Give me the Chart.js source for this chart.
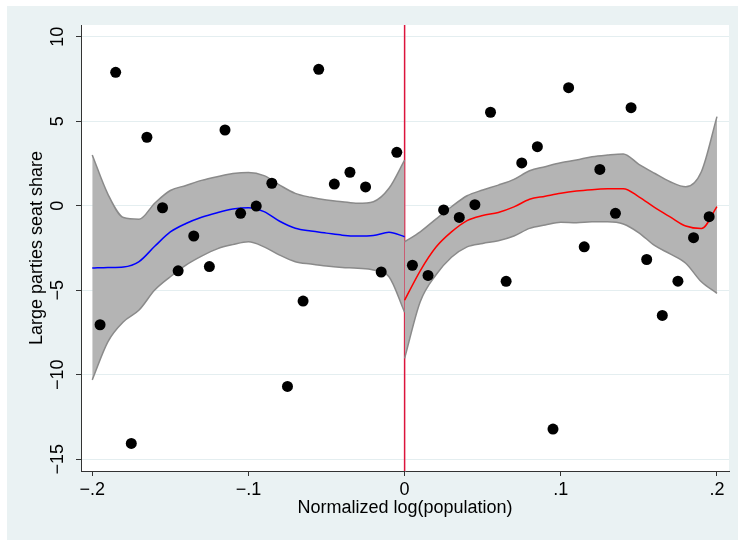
<!DOCTYPE html>
<html>
<head>
<meta charset="UTF-8">
<title>Large parties seat share</title>
<script src="https://cdn.jsdelivr.net/npm/chart.js"></script>
<style>
  html, body { margin: 0; padding: 0; background: #fff; }
  canvas { display: block; }
</style>
</head>
<body>
<canvas id="rdChart" width="738" height="542"></canvas>
<script>
// bin means, left and right of the cutoff
const binXLeft = [-0.195, -0.185, -0.175, -0.165, -0.155, -0.145, -0.135, -0.125, -0.115, -0.105,
                  -0.095, -0.085, -0.075, -0.065, -0.055, -0.045, -0.035, -0.025, -0.015, -0.005];
const binYLeft = [-7.04, 7.89, -14.06, 4.05, -0.12, -3.85, -1.79, -3.60, 4.48, -0.45,
                  -0.02, 1.33, -10.69, -5.64, 8.07, 1.28, 1.98, 1.11, -3.92, 3.16];
const binXRight = [0.005, 0.015, 0.025, 0.035, 0.045, 0.055, 0.065, 0.075, 0.085, 0.095,
                   0.105, 0.115, 0.125, 0.135, 0.145, 0.155, 0.165, 0.175, 0.185, 0.195];
const binYRight = [-3.52, -4.12, -0.25, -0.69, 0.06, 5.53, -4.47, 2.53, 3.49, -13.21,
                   6.98, -2.43, 2.15, -0.45, 5.80, -3.18, -6.49, -4.46, -1.89, -0.65];

// local fit with confidence band
const fitXLeft = [-0.20, -0.19, -0.18, -0.17, -0.16, -0.15, -0.14, -0.13, -0.12, -0.11, -0.10,
                  -0.09, -0.08, -0.07, -0.06, -0.05, -0.04, -0.03, -0.02, -0.01, 0.00];
const fitLeft = [-3.69, -3.65, -3.62, -3.3, -2.4, -1.55, -1.05, -0.68, -0.41, -0.2, -0.12,
                 -0.35, -0.92, -1.33, -1.5, -1.62, -1.74, -1.79, -1.76, -1.57, -1.83];
const upLeft = [3.0, 0.69, -0.7, -0.8, 0.15, 0.9, 1.2, 1.5, 1.72, 1.9, 1.97,
                1.78, 1.22, 0.73, 0.5, 0.34, 0.24, 0.14, 0.24, 1.03, 2.70];
const loLeft = [-10.3, -8.05, -6.86, -6.17, -4.99, -4.2, -3.51, -2.98, -2.55, -2.3, -2.13,
                -2.43, -2.92, -3.31, -3.45, -3.57, -3.65, -3.7, -3.8, -4.2, -6.3];

const fitXRight = [0.00, 0.01, 0.02, 0.03, 0.04, 0.05, 0.06, 0.07, 0.08, 0.09, 0.10,
                   0.11, 0.12, 0.13, 0.14, 0.15, 0.16, 0.17, 0.18, 0.19, 0.20];
const fitRight = [-5.59, -3.85, -2.46, -1.55, -0.88, -0.58, -0.4, -0.07, 0.38, 0.56, 0.74,
                  0.87, 0.95, 1.0, 1.01, 0.53, -0.1, -0.66, -1.2, -1.35, -0.05];
const upRight = [-2.13, -1.54, -0.79, -0.06, 0.59, 0.93, 1.22, 1.56, 2.07, 2.31, 2.54,
                 2.70, 2.9, 3.0, 3.06, 2.45, 1.92, 1.42, 1.12, 2.01, 5.27];
const loRight = [-9.03, -5.68, -4.1, -3.05, -2.43, -2.23, -2.07, -1.79, -1.34, -1.14, -0.98,
                 -1.0, -0.95, -0.95, -1.08, -1.6, -2.35, -2.85, -3.4, -4.5, -5.18];

const cutoff = 0;
const xTicks = [-0.2, -0.1, 0, 0.1, 0.2];
const xTickLabels = ['\u2212.2', '\u2212.1', '0', '.1', '.2'];
const yTicks = [-15, -10, -5, 0, 5, 10];
const yTickLabels = ['\u221215', '\u221210', '\u22125', '0', '5', '10'];
const xMin = -0.2072, xMax = 0.2077;
const yMin = -15.69, yMax = 10.69;

const pts = (xs, ys) => xs.map((x, i) => ({ x: x, y: ys[i] }));

const FONT = { family: "'Liberation Sans', Arial, sans-serif", size: 18 };
const BAND = '#b4b4b4';
const BAND_EDGE = '#8a8a8a';

// outer grey frame and white plot region
const backdrop = {
  id: 'backdrop',
  beforeDraw(chart) {
    const { ctx, chartArea: a } = chart;
    ctx.save();
    ctx.fillStyle = '#ffffff';
    ctx.fillRect(0, 0, chart.width, chart.height);
    ctx.fillStyle = '#eaf2f3';
    ctx.fillRect(7, 6, chart.width - 7, 534);
    ctx.fillStyle = '#ffffff';
    ctx.fillRect(a.left, a.top, a.right - a.left, a.bottom - a.top);
    ctx.restore();
  }
};

const lineDs = (data, color, width, order) => ({
  data: data,
  showLine: true,
  borderColor: color,
  borderWidth: width,
  pointRadius: 0,
  cubicInterpolationMode: 'monotone',
  fill: false,
  order: order
});

const datasets = [
  {
    label: 'bins',
    data: pts(binXLeft, binYLeft).concat(pts(binXRight, binYRight)),
    pointRadius: 5.5,
    pointBackgroundColor: '#000',
    pointBorderWidth: 0,
    showLine: false,
    order: 0
  },
  lineDs(pts(fitXLeft, fitLeft), '#0000ff', 1.5, 1),
  lineDs(pts(fitXRight, fitRight), '#ff0000', 1.5, 1),
  Object.assign(lineDs(pts(fitXLeft, upLeft), BAND_EDGE, 1.5, 3), { fill: 4, backgroundColor: BAND }),
  lineDs(pts(fitXLeft, loLeft), BAND_EDGE, 1.5, 2),
  Object.assign(lineDs(pts(fitXRight, upRight), BAND_EDGE, 1.5, 3), { fill: 6, backgroundColor: BAND }),
  lineDs(pts(fitXRight, loRight), BAND_EDGE, 1.5, 2),
  Object.assign(lineDs([{ x: cutoff, y: yMin }, { x: cutoff, y: yMax }], '#dc143c', 1.5, 4),
                { cubicInterpolationMode: 'default', tension: 0 })
];

new Chart(document.getElementById('rdChart'), {
  type: 'scatter',
  data: { datasets: datasets },
  plugins: [backdrop],
  options: {
    responsive: false,
    animation: false,
    layout: { padding: { top: 25, right: 9, left: 0, bottom: 0 } },
    plugins: { legend: { display: false }, tooltip: { enabled: false } },
    scales: {
      x: {
        type: 'linear',
        min: xMin,
        max: xMax,
        afterBuildTicks: s => { s.ticks = xTicks.map(v => ({ value: v })); },
        afterFit: s => { s.height = 71; },
        ticks: {
          font: FONT,
          color: '#000',
          padding: 3,
          maxRotation: 0,
          autoSkip: false,
          callback: (v, i) => xTickLabels[i]
        },
        grid: { drawOnChartArea: false, drawTicks: true, tickLength: 5, tickColor: '#333', tickWidth: 1 },
        border: { color: '#333', width: 1 },
        title: {
          display: true,
          text: 'Normalized log(population)',
          font: FONT,
          color: '#000',
          padding: { top: 0, bottom: 23 }
        }
      },
      y: {
        type: 'linear',
        min: yMin,
        max: yMax,
        afterBuildTicks: s => { s.ticks = yTicks.map(v => ({ value: v })); },
        afterFit: s => { s.width = 81; },
        ticks: {
          font: FONT,
          color: '#000',
          padding: 3,
          minRotation: 90,
          maxRotation: 90,
          crossAlign: 'center',
          autoSkip: false,
          callback: (v, i) => yTickLabels[i]
        },
        grid: { color: '#e4eef0', lineWidth: 1, tickLength: 5, tickColor: '#333', tickWidth: 1 },
        border: { color: '#333', width: 1 },
        title: {
          display: true,
          text: 'Large parties seat share',
          font: FONT,
          color: '#000',
          padding: { top: 26, bottom: 0 }
        }
      }
    }
  }
});
</script>
</body>
</html>
